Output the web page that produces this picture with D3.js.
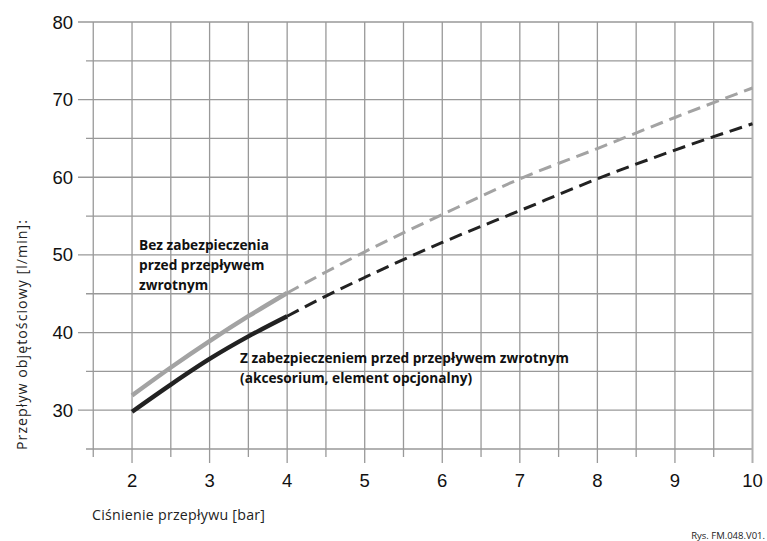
<!DOCTYPE html>
<html><head><meta charset="utf-8">
<script src="https://cdn.jsdelivr.net/npm/d3@7"></script>
<style>body{margin:0;background:#fff}svg{display:block}</style>
</head><body>
<svg id="c" width="767" height="541"></svg>
<script>
const pressureSolid = [2, 2.5, 3, 3.5, 4];
const pressureDashed = [4, 4.5, 5, 6, 7, 8, 9, 10];
const flowWithoutSolid = [31.9, 35.5, 38.9, 42.1, 45.1];
const flowWithoutDashed = [45.1, 47.8, 50.4, 55.2, 59.8, 63.7, 67.7, 71.5];
const flowWithSolid = [29.8, 33.3, 36.6, 39.5, 42.1];
const flowWithDashed = [42.1, 44.7, 47.1, 51.6, 55.7, 59.8, 63.5, 66.9];
const xTicks = [2, 3, 4, 5, 6, 7, 8, 9, 10];
const yTicks = [30, 40, 50, 60, 70, 80];
const xTitle = "Ciśnienie przepływu [bar]";
const yTitle = "Przepływ objętościowy [l/min]:";
const labelWithout = ["Bez zabezpieczenia", "przed przepływem", "zwrotnym"];
const labelWith = ["Z zabezpieczeniem przed przepływem zwrotnym", "(akcesorium, element opcjonalny)"];
const figRef = "Rys. FM.048.V01.";

const svg = d3.select("#c");
const x = d3.scaleLinear().domain([1.5, 10]).range([93.25, 752.5]);
const y = d3.scaleLinear().domain([25, 80]).range([449, 22]);
const gridColor = "#999";

// widen letter spacing so a text's length matches a target width
function fitSpacing(sel, target) {
  const n = sel.node();
  const txt = sel.text();
  const w = n.getComputedTextLength();
  if (w > 0 && txt.length > 1) sel.attr("letter-spacing", ((target - w) / (txt.length - 1)).toFixed(3));
  return sel;
}

const g = svg.append("g");
d3.range(25, 80.1, 5).forEach(v => {
  const major = v % 10 === 0;
  g.append("line").attr("x1", major ? 78 : 86).attr("x2", x(10))
    .attr("y1", y(v)).attr("y2", y(v))
    .attr("stroke", gridColor).attr("stroke-width", 1.3);
});
d3.range(1.5, 10.01, 0.5).forEach(v => {
  const major = Number.isInteger(v);
  g.append("line").attr("x1", x(v)).attr("x2", x(v))
    .attr("y1", y(80)).attr("y2", major ? 463 : 457)
    .attr("stroke", v === 10 ? "#b0b0b0" : gridColor)
    .attr("stroke-width", v === 10 ? 2 : 1.3);
});

svg.append("g").selectAll("text").data(yTicks).join("text")
  .attr("x", 73).attr("y", d => y(d) + 6.5).attr("text-anchor", "end")
  .attr("font-family", "Liberation Sans, Arial, sans-serif").attr("font-size", 18.5)
  .attr("fill", "#111").text(d => d);
svg.append("g").selectAll("text").data(xTicks).join("text")
  .attr("x", d => x(d)).attr("y", 487).attr("text-anchor", "middle")
  .attr("font-family", "Liberation Sans, Arial, sans-serif").attr("font-size", 18.5)
  .attr("fill", "#111").text(d => d);

const line = d3.line().x(d => x(d[0])).y(d => y(d[1])).curve(d3.curveMonotoneX);
function draw(xs, ys, color, w, dash) {
  svg.append("path").datum(xs.map((v, i) => [v, ys[i]]))
    .attr("d", line).attr("fill", "none").attr("stroke", color)
    .attr("stroke-width", w).attr("stroke-dasharray", dash || null);
}
const grey = "#a3a3a3", dark = "#222";
draw(pressureDashed, flowWithoutDashed, grey, 3, "13,7");
draw(pressureDashed, flowWithDashed, dark, 3, "13,7");
draw(pressureSolid, flowWithoutSolid, grey, 4.4);
draw(pressureSolid, flowWithSolid, dark, 4.4);

const fam = "Open Sans, sans-serif";
function boldText(t, xx, yy) {
  return svg.append("text").attr("x", xx).attr("y", yy)
    .attr("font-family", fam).attr("font-size", 13.7).attr("font-weight", 700)
    .attr("fill", "#111").text(t);
}
labelWithout.forEach((t, i) => boldText(t, 139, 250 + i * 20));
labelWith.forEach((t, i) => boldText(t, 240, 363 + i * 20));

fitSpacing(svg.append("text").attr("x", 92).attr("y", 520)
  .attr("font-family", fam).attr("font-size", 14.2).attr("fill", "#222").text(xTitle), 173);
fitSpacing(svg.append("text").attr("transform", "translate(27,450) rotate(-90)")
  .attr("font-family", fam).attr("font-size", 14.2).attr("fill", "#222").text(yTitle), 230);
svg.append("text").attr("x", 765).attr("y", 539).attr("text-anchor", "end")
  .attr("font-family", fam).attr("font-size", 9.5).attr("fill", "#222").text(figRef);
</script>
</body></html>
